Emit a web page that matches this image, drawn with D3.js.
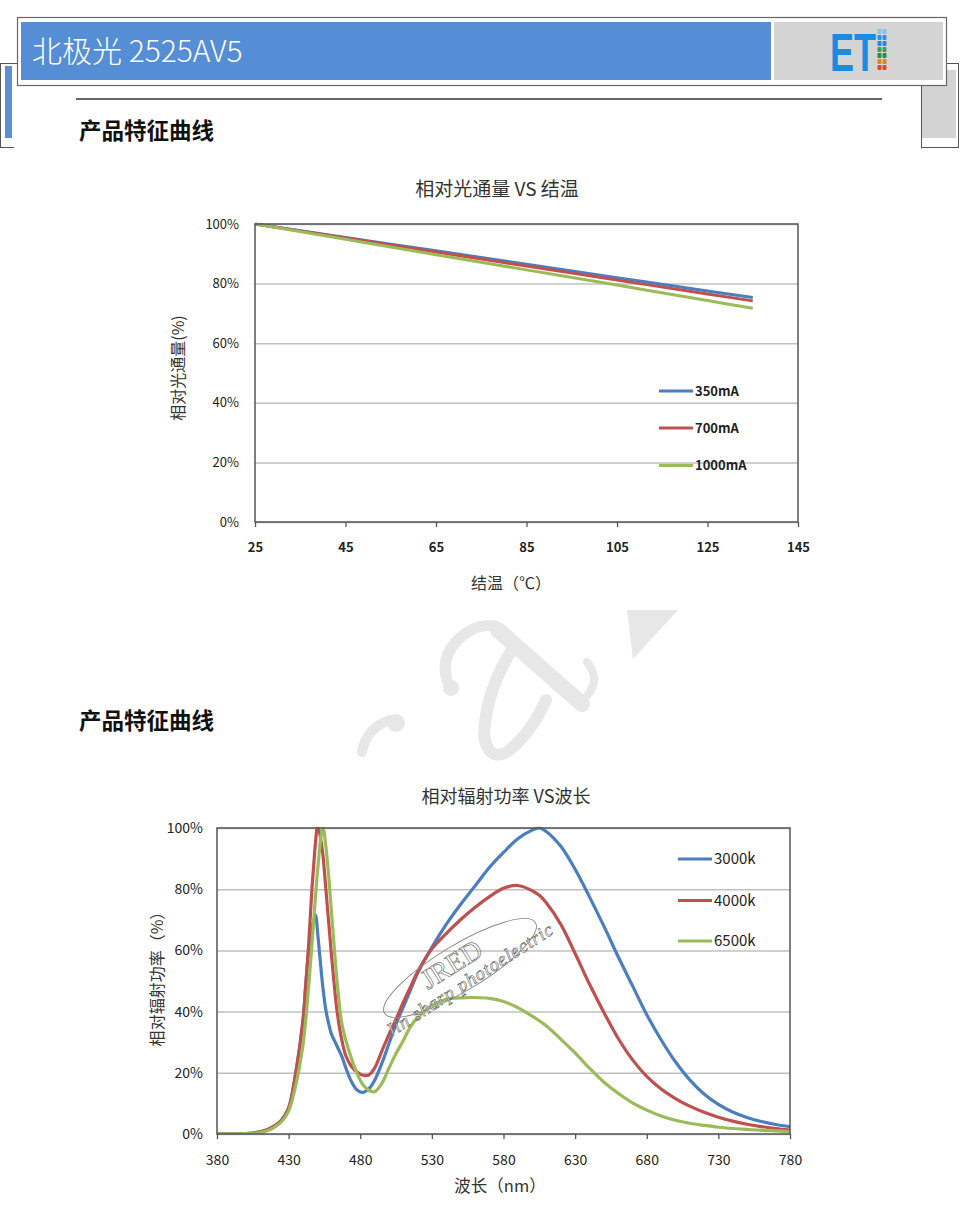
<!DOCTYPE html>
<html><head><meta charset="utf-8">
<script src="https://cdn.jsdelivr.net/npm/d3@7"></script>
<style>
body{margin:0;background:#fff;}
svg{display:block;font-family:"Noto Sans CJK SC","Noto Sans",sans-serif;}
</style></head><body>
<svg id="c" width="960" height="1218"></svg>
<script>
// ---------------- DATA ----------------
const headerTitle = "北极光 2525AV5";
const sectionTitle = "产品特征曲线";

// Chart 1: relative flux vs junction temperature
const chart1Title = "相对光通量 VS 结温";
const chart1YLabel = "相对光通量(%)";
const chart1XLabel = "结温（℃）";
const tempC = [25, 45, 65, 85, 105, 125, 135];
const flux350 = [100, 95.5, 91.0, 86.5, 82.0, 77.5, 75.3];
const flux700 = [100, 95.3, 90.6, 85.9, 81.2, 76.5, 74.2];
const flux1000 = [100, 94.9, 89.7, 84.6, 79.5, 74.3, 71.7];
const chart1Series = ["350mA", "700mA", "1000mA"];
const chart1XTicks = [25, 45, 65, 85, 105, 125, 145];
const chart1YTicks = [0, 20, 40, 60, 80, 100];

// Chart 2: relative radiant power vs wavelength
const chart2Title = "相对辐射功率 VS波长";
const chart2YLabel = "相对辐射功率（%）";
const chart2XLabel = "波长（nm）";
const wavelength = [380,390,400,405,410,415,420,425,430,435,
  440,442,444,446,448,449,450,451,452,453,
  454,456,458,460,462,464,467,470,474,478,
  482,486,490,495,500,505,510,515,520,530,
  540,550,560,570,580,590,600,605,610,620,
  630,640,650,660,670,680,690,700,710,720,
  730,740,750,760,770,780];
const power3000k = [0,0,0.1,0.3,0.7,1.4,2.6,4.5,8.5,20,
  37,49,60,66.5,70.5,71.5,67,62,57,52,
  47.5,40.5,36,32.5,30.5,28.5,25.5,21.5,17,14.3,
  13.6,14.8,17.5,23,29.5,36,41.5,47,52.5,61,
  68.5,75,81,87,92,96.5,99.3,100,98.8,94,
  86.5,77.5,68,58,48.5,39,30.8,23.6,17.7,13.1,
  9.7,7.2,5.4,4.1,3.1,2.4];
const power4000k = [0,0,0.1,0.3,0.7,1.4,2.6,4.5,8.5,20,
  37,49,62,78,91,96.5,100,99.5,97.5,94.5,
  91,80,69,58,48,39.5,31,25.5,22,20.2,
  19.2,19.3,21.5,27,32.5,37.5,43,48,53,60.5,
  65.5,70,74,77.5,80.3,81.2,79.5,78,75.5,68.5,
  59,49,39.8,31.3,24.3,18.8,14.7,11.6,9.1,7.1,
  5.5,4.2,3.2,2.4,1.8,1.3];
const power6500k = [0,0,0.1,0.2,0.5,1.1,2.2,4,7.5,16,
  29,37.5,48.5,60,73,79,85,90,95,98.5,
  100,94,84,72,60,49,36.5,30.5,24.5,19.5,
  16,14.3,13.8,16.5,21.5,26.3,30.5,35,38,42,
  44,44.5,44.6,44.3,43.3,41.3,38.5,37,35.3,31,
  26.5,21.5,17,13.3,10.2,7.8,5.9,4.5,3.5,2.8,
  2.2,1.8,1.5,1.2,1.0,0.8];
const chart2Series = ["3000k", "4000k", "6500k"];
const chart2XTicks = [380, 430, 480, 530, 580, 630, 680, 730, 780];
const chart2YTicks = [0, 20, 40, 60, 80, 100];

const seriesColors = ["#4a7ebf", "#c0504d", "#9bbb59"];

// ---------------- PAGE DECOR ----------------
const svg = d3.select("#c");
svg.append("rect").attr("width", 960).attr("height", 1218).attr("fill", "#fff");

// back page frame
svg.append("rect").attr("x", 0.5).attr("y", 63.5).attr("width", 958).attr("height", 84)
  .attr("fill", "none").attr("stroke", "#555").attr("stroke-width", 1);
svg.append("rect").attr("x", 5).attr("y", 66).attr("width", 7).attr("height", 72).attr("fill", "#5b8fd6");
svg.append("rect").attr("x", 922).attr("y", 70).attr("width", 34).attr("height", 68).attr("fill", "#d3d3d3");
// front white page
svg.append("rect").attr("x", 14).attr("y", 86).attr("width", 907.5).attr("height", 1140).attr("fill", "#fff");
svg.append("line").attr("x1", 921.5).attr("x2", 921.5).attr("y1", 81).attr("y2", 148.5).attr("stroke", "#555");

// header
svg.append("rect").attr("x", 17.5).attr("y", 17.5).attr("width", 929).attr("height", 68)
  .attr("fill", "#fff").attr("stroke", "#666").attr("stroke-width", 1.2);
svg.append("rect").attr("x", 21).attr("y", 22).attr("width", 750).attr("height", 58).attr("fill", "#558ed5");
svg.append("rect").attr("x", 774).attr("y", 22).attr("width", 169).attr("height", 58).attr("fill", "#d4d4d4");
svg.append("text").attr("x", 32).attr("y", 62).attr("fill", "#fff").attr("font-size", 30)
  .attr("font-weight", 300).text(headerTitle);

// logo
svg.append("text").attr("x", 830).attr("y", 71).attr("font-family", "Liberation Sans, Arial, sans-serif")
  .attr("font-weight", "bold").attr("font-size", 54).attr("fill", "#1b8be0")
  .attr("textLength", 46).attr("lengthAdjust", "spacingAndGlyphs").text("ET");
const logoDots = ["#7cc6f0", "#2c92e2", "#2a88d6", "#3d9e5c", "#2f8a40", "#db842c", "#e2472a"];
logoDots.forEach((c, i) => {
  [877.5, 882.5].forEach(xx => {
    svg.append("rect").attr("x", xx).attr("y", 29 + i * 6).attr("width", 4).attr("height", 5)
      .attr("rx", 1).attr("fill", c);
  });
});

// rule under header
svg.append("line").attr("x1", 76).attr("x2", 882).attr("y1", 99).attr("y2", 99)
  .attr("stroke", "#333").attr("stroke-width", 1.5);

// section headings
[139, 729].forEach(yy => {
  svg.append("text").attr("x", 79).attr("y", yy).attr("font-size", 22.5).attr("font-weight", "bold")
    .attr("fill", "#111").text(sectionTitle);
});

// big light watermark between charts
const wmc = "#e7e7e7";
const wm = svg.append("g").attr("fill", "none").attr("stroke", wmc).attr("stroke-linecap", "round");
wm.append("path").attr("d", "M362,752 Q366,728 390,720").attr("stroke-width", 10);
wm.append("circle").attr("cx", 396).attr("cy", 723).attr("r", 9).attr("fill", wmc).attr("stroke", "none");
wm.append("path").attr("d", "M450,688 Q436,658 462,636 Q478,623 495,626").attr("stroke-width", 11);
wm.append("circle").attr("cx", 451).attr("cy", 688).attr("r", 8).attr("fill", wmc).attr("stroke", "none");
wm.append("path").attr("d", "M498,630 L582,704").attr("stroke-width", 16);
wm.append("path").attr("d", "M513,648 Q486,690 484,735 Q488,762 507,752 Q530,735 546,700").attr("stroke-width", 12);
wm.append("path").attr("d", "M587,662 Q604,684 580,702").attr("stroke-width", 8);
wm.append("path").attr("d", "M627,610 L678,610 L633,659 Z").attr("fill", wmc).attr("stroke", "none");

// ---------------- CHART FUNCTION ----------------
let clipN = 0;
function drawChart(cfg) {
  const g = svg.append("g");
  const x = d3.scaleLinear().domain(cfg.xDomain).range([cfg.left, cfg.right]);
  const y = d3.scaleLinear().domain([0, 100]).range([cfg.bottom, cfg.top]);

  // grid + y tick labels
  const ya = g.append("g").attr("transform", `translate(${cfg.left},0)`)
    .call(d3.axisLeft(y).tickValues(cfg.yTicks).tickSize(-(cfg.right - cfg.left))
      .tickPadding(cfg.yPad).tickFormat(d => d + "%"));
  ya.select(".domain").remove();
  ya.attr("font-family", null).attr("font-size", cfg.tickSize);
  ya.selectAll(".tick line").attr("stroke", "#c0c0c0").attr("stroke-width", 1.5);
  ya.selectAll(".tick text").attr("fill", "#222");

  // x axis
  const xa = g.append("g").attr("transform", `translate(0,${cfg.bottom})`)
    .call(d3.axisBottom(x).tickValues(cfg.xTicks).tickSize(5).tickPadding(16));
  xa.select(".domain").remove();
  xa.attr("font-family", null).attr("font-size", cfg.tickSize);
  xa.selectAll(".tick line").attr("stroke", "#555").attr("stroke-width", 1.3);
  xa.selectAll(".tick text").attr("fill", "#222").attr("font-weight", cfg.xBold ? "bold" : null);

  // clip
  const cid = "clip" + (clipN++);
  g.append("clipPath").attr("id", cid).append("rect")
    .attr("x", cfg.left).attr("y", cfg.top - 1.5)
    .attr("width", cfg.right - cfg.left).attr("height", cfg.bottom - cfg.top + 1.5);

  // lines
  const line = d3.line().x(d => x(d[0])).y(d => y(d[1])).curve(d3.curveCatmullRom.alpha(0.5));
  const lg = g.append("g").attr("clip-path", `url(#${cid})`);
  cfg.series.forEach((s, i) => {
    const pts = cfg.xs.map((xv, k) => [xv, s[k]]);
    lg.append("path").datum(pts).attr("d", line).attr("fill", "none")
      .attr("stroke", seriesColors[i]).attr("stroke-width", cfg.lineW)
      .attr("stroke-linejoin", "round");
  });

  // frame
  g.append("rect").attr("x", cfg.left).attr("y", cfg.top)
    .attr("width", cfg.right - cfg.left).attr("height", cfg.bottom - cfg.top)
    .attr("fill", "none").attr("stroke", "#555").attr("stroke-width", 1.5);

  // legend
  cfg.names.forEach((n, i) => {
    const ly = cfg.legendY[i];
    g.append("line").attr("x1", cfg.legendX).attr("x2", cfg.legendX + cfg.legendLen)
      .attr("y1", ly).attr("y2", ly).attr("stroke", seriesColors[i]).attr("stroke-width", 3);
    g.append("text").attr("x", cfg.legendX + cfg.legendLen + 2).attr("y", ly).attr("dy", "0.35em")
      .attr("font-size", cfg.legendSize).attr("font-weight", cfg.legendBold ? "bold" : null)
      .attr("fill", "#222").text(n);
  });

  // titles
  g.append("text").attr("x", cfg.titleX).attr("y", cfg.titleY).attr("text-anchor", "middle")
    .attr("dy", "0.35em").attr("font-size", cfg.titleSize).attr("fill", "#333").text(cfg.title);
  g.append("text").attr("x", cfg.xLabelX).attr("y", cfg.xLabelY).attr("text-anchor", "middle")
    .attr("dy", "0.35em").attr("font-size", cfg.labelSize).attr("fill", "#333").text(cfg.xLabel);
  g.append("text").attr("transform", `translate(${cfg.yLabelX},${cfg.yLabelY}) rotate(-90)`)
    .attr("text-anchor", "middle").attr("dy", "0.35em").attr("font-size", cfg.yLabelSize)
    .attr("fill", "#333").text(cfg.yLabel);
  return g;
}

drawChart({
  xDomain: [25, 145], left: 255, right: 798, top: 224, bottom: 522,
  xTicks: chart1XTicks, yTicks: chart1YTicks, tickSize: 13, xBold: true, yPad: 16,
  xs: tempC, series: [flux350, flux700, flux1000], names: chart1Series, lineW: 3,
  legendX: 659, legendLen: 34, legendY: [391, 428, 465.5], legendSize: 13, legendBold: true,
  title: chart1Title, titleX: 497, titleY: 189, titleSize: 19,
  xLabel: chart1XLabel, xLabelX: 511, xLabelY: 583, labelSize: 16,
  yLabel: chart1YLabel, yLabelX: 178, yLabelY: 368, yLabelSize: 16
});

drawChart({
  xDomain: [380, 780], left: 217, right: 790, top: 828, bottom: 1134,
  xTicks: chart2XTicks, yTicks: chart2YTicks, tickSize: 14, xBold: false, yPad: 14,
  xs: wavelength, series: [power3000k, power4000k, power6500k], names: chart2Series, lineW: 3.2,
  legendX: 678, legendLen: 34, legendY: [859, 900.5, 941], legendSize: 15, legendBold: false,
  title: chart2Title, titleX: 506, titleY: 797, titleSize: 18,
  xLabel: chart2XLabel, xLabelX: 500, xLabelY: 1186, labelSize: 16.5,
  yLabel: chart2YLabel, yLabelX: 157, yLabelY: 975, yLabelSize: 16
});

// chart 2 stamp watermark
const st = svg.append("g");
st.append("ellipse").attr("cx", 0).attr("cy", 0).attr("rx", 88).attr("ry", 23)
  .attr("transform", "translate(460,968) rotate(-31)")
  .attr("fill", "none").attr("stroke", "#888").attr("stroke-width", 0.9);
st.append("text").attr("transform", "translate(390,1038) rotate(-32.5)")
  .attr("font-family", "Liberation Serif, serif").attr("font-style", "italic").attr("font-size", 19)
  .attr("textLength", 195).attr("fill", "#fff").attr("fill-opacity", 0.7)
  .attr("stroke", "#666").attr("stroke-width", 0.6).text("Jin sharp photoelectric");
st.append("text").attr("transform", "translate(428,990) rotate(-32)")
  .attr("font-family", "Liberation Serif, serif").attr("font-size", 28)
  .attr("fill", "none").attr("stroke", "#777").attr("stroke-width", 0.7).text("JRED");
</script>
</body></html>
